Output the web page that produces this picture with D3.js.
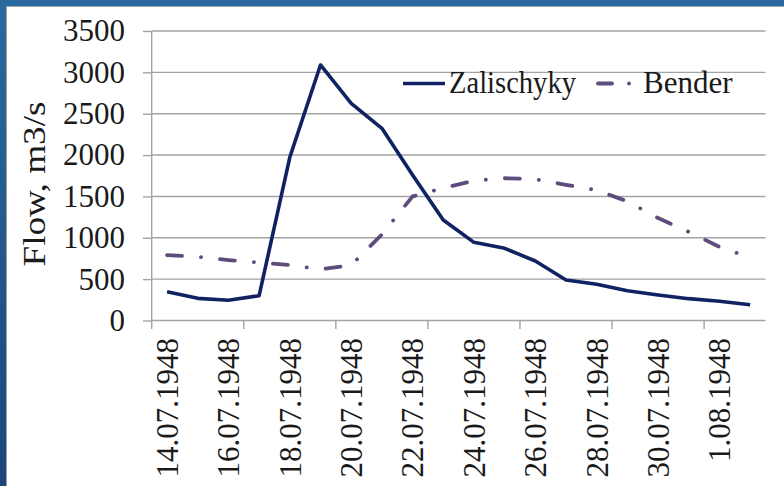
<!DOCTYPE html>
<html>
<head>
<meta charset="utf-8">
<script src="https://cdn.jsdelivr.net/npm/d3@7"></script>
<style>
  html, body { margin: 0; padding: 0; background: #fff; }
  svg { display: block; }
  svg text { font-family: "Liberation Serif", serif !important; fill: #1a1a1a; }
</style>
</head>
<body>
<svg id="chart" width="784" height="486"></svg>
<script>
const dates = ["14.07.1948","15.07.1948","16.07.1948","17.07.1948","18.07.1948","19.07.1948",
  "20.07.1948","21.07.1948","22.07.1948","23.07.1948","24.07.1948","25.07.1948","26.07.1948",
  "27.07.1948","28.07.1948","29.07.1948","30.07.1948","31.07.1948","1.08.1948","2.08.1948"];
const zalischyky = [348, 268, 244, 300, 1973, 3089, 2626, 2324, 1759, 1215, 945, 873, 719, 490, 438, 360, 308, 264, 232, 191];
const bender = [790, 770, 731, 700, 671, 619, 670, 1040, 1500, 1600, 1690, 1720, 1708, 1640, 1575, 1440, 1238, 1072, 890, 760];
const yTicks = [0, 500, 1000, 1500, 2000, 2500, 3000, 3500];
const seriesNames = ["Zalischyky", "Bender"];

const FONT = '"Liberation Serif", serif';
const svg = d3.select("#chart");
const W = 784, H = 486;

// frame
const defs = svg.append("defs");
const grad = defs.append("linearGradient").attr("id", "frameGrad").attr("x1", 0).attr("y1", 0).attr("x2", 0).attr("y2", 1);
grad.append("stop").attr("offset", "0%").attr("stop-color", "#2b6a9f");
grad.append("stop").attr("offset", "100%").attr("stop-color", "#1c4677");
svg.append("rect").attr("x", 0).attr("y", 0).attr("width", W).attr("height", H).attr("fill", "url(#frameGrad)");
svg.append("rect").attr("x", 6).attr("y", 6).attr("width", W - 6).attr("height", H - 6).attr("fill", "#9aa4ae");
svg.append("rect").attr("x", 7).attr("y", 7).attr("width", W - 7).attr("height", H - 7).attr("fill", "#ffffff");

const x0 = 151.7, x1 = 765.5, yBottom = 320.5, yTop = 31;
const x = d3.scaleBand().domain(dates).range([x0, x1]).padding(0);
const y = d3.scaleLinear().domain([0, 3500]).range([yBottom, yTop]);
const cx = d => x(d) + x.bandwidth() / 2;

const gridColor = "#a3a3a3";

// y axis ticks + labels
const yAxis = d3.axisLeft(y).tickValues(yTicks).tickSize(8.7).tickPadding(18).tickFormat(d3.format("d"));
const gy = svg.append("g").attr("transform", `translate(${x0},0)`).call(yAxis)
  .attr("font-family", FONT).attr("font-size", 31);
gy.select(".domain").remove();
gy.selectAll(".tick line").attr("stroke", gridColor).attr("stroke-width", 1.4);
gy.selectAll(".tick text").style("font-family", FONT).style("font-size", "31px").attr("fill", "#1a1a1a");
// gridlines
svg.append("g").selectAll("line").data(yTicks).join("line")
  .attr("x1", x0).attr("x2", x1).attr("y1", d => y(d)).attr("y2", d => y(d))
  .attr("stroke", gridColor).attr("stroke-width", 1.4);
// vertical axis line
svg.append("line").attr("x1", x0).attr("x2", x0).attr("y1", yTop).attr("y2", yBottom + 8.5)
  .attr("stroke", gridColor).attr("stroke-width", 1.4);

// x tick marks every 3 categories
const tickCats = dates.filter((d, i) => i % 3 === 0 && i > 0);
svg.append("g").selectAll("line").data(tickCats).join("line")
  .attr("x1", d => x(d)).attr("x2", d => x(d)).attr("y1", yBottom).attr("y2", yBottom + 8.5)
  .attr("stroke", gridColor).attr("stroke-width", 1.4);

// x labels every 2 categories
const labelCats = dates.filter((d, i) => i % 2 === 0);
svg.append("g").selectAll("text").data(labelCats).join("text")
  .attr("transform", d => `translate(${cx(d)},338) rotate(-90)`)
  .attr("text-anchor", "end").attr("dy", "0.35em")
  .style("font-family", FONT).style("font-size", "31px").text(d => d);

// y title
svg.append("text").attr("transform", `translate(45,184) rotate(-90)`)
  .attr("text-anchor", "middle").style("font-family", FONT).style("font-size", "32px")
  .attr("textLength", 165).attr("lengthAdjust", "spacingAndGlyphs")
  .text("Flow, m3/s");

// lines
const line = d3.line().x((d, i) => cx(dates[i])).y(d => y(d));
svg.append("path").datum(bender).attr("d", line).attr("fill", "none")
  .attr("stroke", "#5e4d7c").attr("stroke-width", 3.8)
  .attr("stroke-linecap", "round").attr("stroke-linejoin", "round")
  .attr("stroke-dasharray", "15,19,0.1,19");
svg.append("path").datum(zalischyky).attr("d", line).attr("fill", "none")
  .attr("stroke", "#112262").attr("stroke-width", 3.6)
  .attr("stroke-linejoin", "round");

// legend
const lg = svg.append("g");
lg.append("line").attr("x1", 403).attr("x2", 445).attr("y1", 83.5).attr("y2", 83.5)
  .attr("stroke", "#112262").attr("stroke-width", 3.6);
lg.append("text").attr("x", 449).attr("y", 93).style("font-family", FONT).style("font-size", "31px")
  .attr("textLength", 127).attr("lengthAdjust", "spacingAndGlyphs").text(seriesNames[0]);
lg.append("line").attr("x1", 598).attr("x2", 612).attr("y1", 83.5).attr("y2", 83.5)
  .attr("stroke", "#5e4d7c").attr("stroke-width", 3.8).attr("stroke-linecap", "round");
lg.append("circle").attr("cx", 629).attr("cy", 83.5).attr("r", 1.9).attr("fill", "#5e4d7c");
lg.append("text").attr("x", 643).attr("y", 93).style("font-family", FONT).style("font-size", "31px").text(seriesNames[1]);
</script>
</body>
</html>
